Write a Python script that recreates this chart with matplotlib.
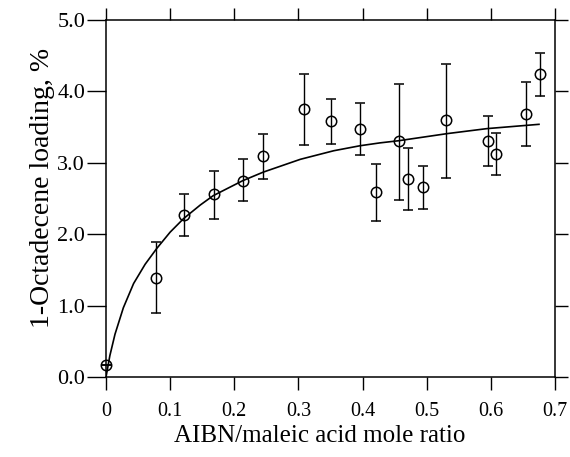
import numpy as np
import matplotlib.pyplot as plt

plt.rcParams['font.family'] = ['Liberation Serif', 'DejaVu Serif']

# measured points (AIBN/maleic acid ratio vs loading %)
ratio = [0.0, 0.078, 0.121, 0.168, 0.213, 0.245, 0.308, 0.350, 0.396,
         0.421, 0.456, 0.471, 0.494, 0.530, 0.596, 0.608, 0.655, 0.676]
loading = [0.17, 1.39, 2.27, 2.56, 2.75, 3.09, 3.75, 3.59, 3.48,
           2.59, 3.30, 2.78, 2.66, 3.60, 3.31, 3.13, 3.69, 4.24]
err_hi = [0.17, 1.89, 2.57, 2.89, 3.05, 3.40, 4.24, 3.90, 3.84,
          2.98, 4.11, 3.21, 2.96, 4.39, 3.65, 3.42, 4.13, 4.54]
err_lo = [0.17, 0.89, 1.97, 2.21, 2.46, 2.78, 3.25, 3.26, 3.11,
          2.19, 2.48, 2.34, 2.35, 2.79, 2.96, 2.83, 3.24, 3.94]

# fitted curve
fit_x = [0.0, 0.006, 0.014, 0.027, 0.043, 0.061, 0.079, 0.100, 0.121, 0.147,
         0.167, 0.213, 0.245, 0.303, 0.355, 0.396, 0.427, 0.456, 0.532, 0.594, 0.675]
fit_y = [0.0, 0.30, 0.60, 0.97, 1.31, 1.58, 1.80, 2.03, 2.22, 2.41,
         2.54, 2.75, 2.87, 3.05, 3.17, 3.24, 3.28, 3.31, 3.41, 3.48, 3.54]

xticks = [0, 0.1, 0.2, 0.3, 0.4, 0.5, 0.6, 0.7]
xlabels = ['0', '0.1', '0.2', '0.3', '0.4', '0.5', '0.6', '0.7']
yticks = [0, 1, 2, 3, 4, 5]
ylabels = ['0.0', '1.0', '2.0', '3.0', '4.0', '5.0']

fig = plt.figure(figsize=(5.7, 4.57), dpi=100)
ax = fig.add_axes([0.186, 0.175, 0.7877, 0.781])

y = np.array(loading)
yerr = np.vstack([y - np.array(err_lo), np.array(err_hi) - y])
ax.errorbar(ratio, y, yerr=yerr, fmt='o', ms=7.5, mfc='none', mec='black',
            mew=1.1, ecolor='black', elinewidth=1.0, capsize=3.6, capthick=1.0,
            color='black', clip_on=False, zorder=3)
ax.plot(fit_x, fit_y, color='black', lw=1.2, zorder=2)

ax.set_xlim(0, 0.7)
ax.set_ylim(0, 5)
ax.set_xticks(xticks)
ax.set_xticklabels(xlabels)
ax.set_yticks(yticks)
ax.set_yticklabels(ylabels)

for s in ax.spines.values():
    s.set_linewidth(1.1)

ax.tick_params(axis='x', direction='out', length=9, width=1.0, labelsize=14.5,
               pad=9, top=True)
ax.tick_params(axis='y', direction='out', length=14, width=1.0, labelsize=16,
               pad=1, right=True)
# right-hand ticks are shorter than the left ones
for t in ax.yaxis.get_major_ticks():
    t.tick2line.set_markersize(9)

ax.set_xlabel('AIBN/maleic acid mole ratio', fontsize=18)
ax.set_ylabel('1-Octadecene loading, %', fontsize=20)
ax.xaxis.set_label_coords(0.475, -0.135)
ax.yaxis.set_label_coords(-0.113, 0.53)

fig.savefig('out.png', dpi=100)
